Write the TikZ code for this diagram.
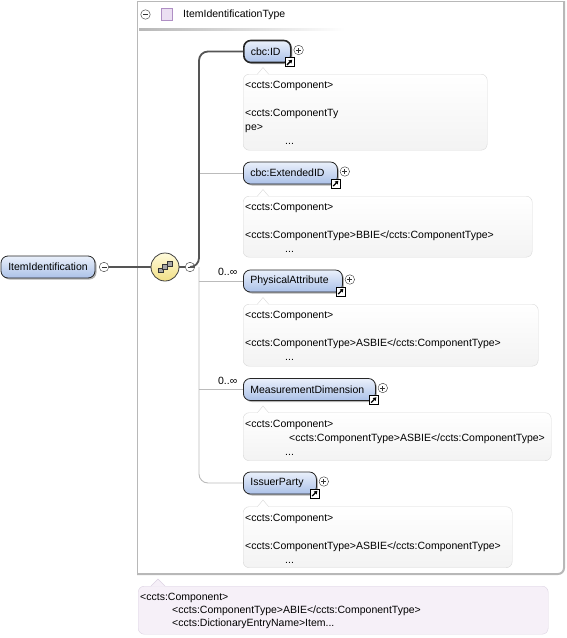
\documentclass[tikz,border=0pt]{standalone}
\usepackage{fontspec}
\setmainfont{Liberation Sans}
\usetikzlibrary{shadows,arrows.meta}
\definecolor{elemTop}{HTML}{EAF0FB}
\definecolor{elemBot}{HTML}{ABC1E8}
\definecolor{annLine}{HTML}{D8D8D8}
\definecolor{annBot}{HTML}{F3F3F3}
\definecolor{docFill}{HTML}{F6F0F8}
\definecolor{docLine}{HTML}{DCD2E2}
\definecolor{frameGray}{HTML}{B8B8B8}
\definecolor{lightLink}{HTML}{BBBBBB}
\definecolor{darkLink}{HTML}{555555}
\definecolor{seqTop}{HTML}{FFFBDC}
\definecolor{seqBot}{HTML}{F1DF85}
\definecolor{typeSq}{HTML}{EBDFF2}
\definecolor{typeSqLine}{HTML}{AF8FC4}
\tikzset{
  elembox/.style={draw=black!85, line width=0.8pt, rounded corners=7pt,
    top color=elemTop, bottom color=elemBot, minimum height=22pt,
    inner xsep=7pt, inner ysep=0pt, anchor=west, align=left,
    font=\fontsize{10.5}{12}\selectfont,
    drop shadow={shadow xshift=1.5pt, shadow yshift=-1.5pt, fill=black!50, opacity=0.6}},
  mandatory/.style={line width=1.6pt},
  annbox/.style={draw=annLine, rounded corners=6pt, top color=white, bottom color=annBot,
    anchor=north west, inner sep=0pt},
  docbox/.style={draw=docLine, rounded corners=6pt, fill=docFill, anchor=north west, inner sep=0pt},
  anntext/.style={anchor=north west, inner sep=0pt, align=left, font=\fontsize{10.5}{14}\selectfont},
  doctext/.style={anchor=north west, inner sep=0pt, align=left, font=\fontsize{10.5}{13}\selectfont},
  pmminus/.style={circle, draw=black!80, fill=white, minimum size=9.5pt, inner sep=0pt,
    path picture={\draw[line width=0.7pt] ([xshift=-2.5pt]path picture bounding box.center) -- ([xshift=2.5pt]path picture bounding box.center);}},
  pmplus/.style={circle, draw=black!80, fill=white, minimum size=9.5pt, inner sep=0pt,
    path picture={\draw[line width=0.7pt] ([xshift=-2.5pt]path picture bounding box.center) -- ([xshift=2.5pt]path picture bounding box.center)
      ([yshift=-2.5pt]path picture bounding box.center) -- ([yshift=2.5pt]path picture bounding box.center);}},
  refbox/.style={draw=black, line width=0.8pt, fill=white, minimum size=9pt, inner sep=0pt,
    path picture={\draw[-{Triangle[length=3.2pt,width=4pt]}, line width=1.3pt]
      ([shift={(-2.6pt,-2.6pt)}]path picture bounding box.center) -- ([shift={(2.6pt,2.6pt)}]path picture bounding box.center);}},
  lightlink/.style={draw=lightLink, line width=0.9pt, rounded corners=9pt},
  darklink/.style={draw=darkLink, line width=1.8pt, rounded corners=9pt},
  mult/.style={anchor=base east, inner sep=0pt, font=\fontsize{10.5}{12}\selectfont},
}
\begin{document}
\begin{tikzpicture}[x=1pt,y=-1pt]
\useasboundingbox (0,0) rectangle (567,638);
% type frame
\draw[frameGray, line width=1pt] (137,575) -- (137,1) -- (564,1);
\draw[frameGray, line width=2pt, rounded corners=6pt] (564,1) -- (564,574) -- (137,574);
% header
\node[pmminus] (hminus) at (145.5,14.5) {};
\node[draw=typeSqLine, fill=typeSq, minimum width=11pt, minimum height=12pt, inner sep=0pt] (hsq) at (167,14.5) {};
\node[anchor=west, inner sep=0pt, font=\fontsize{10.5}{12}\selectfont] (htitle) at (183,15) {ItemIdentificationType};
\shade[left color=black!28, right color=white] (139,28.5) rectangle (345,30);

% root element and sequence
\node[elembox, anchor=center, align=center, text width=80pt] (root) at (48,267) {ItemIdentification};
\node[pmminus] (rootm) at (104,267) {};
\node[circle, draw=black!75, line width=0.8pt, top color=seqTop, bottom color=seqBot, minimum size=28pt, inner sep=0pt] (seq) at (165,267) {};
\draw[black!70, line width=0.7pt] (158,270) -- (172,264);
\filldraw[fill=black!35, draw=black!80, line width=0.5pt] (158.2,267.8) rectangle (162.8,272.4);
\filldraw[fill=black!35, draw=black!80, line width=0.5pt] (162.7,264.7) rectangle (167.3,269.3);
\filldraw[fill=black!35, draw=black!80, line width=0.5pt] (167.2,261.6) rectangle (171.8,266.2);
\node[pmminus] (seqm) at (190,267) {};
\coordinate (trunk) at (199,267);

% child elements
\node[elembox, mandatory, text width=33pt] (id) at (243,51.5) {cbc:ID};
\node[elembox, text width=80pt] (ext) at (243,173) {cbc:ExtendedID};
\node[elembox, text width=85pt] (phys) at (243,281) {PhysicalAttribute};
\node[elembox, text width=118pt] (meas) at (243,389.5) {MeasurementDimension};
\node[elembox, text width=59pt] (issuer) at (243,483) {IssuerParty};

% connectors
\draw[darkLink, line width=1.4pt] (rootm.east) -- (seq.west);
\draw[darkLink, line width=1.4pt] (seq.east) -- (seqm.west);
\draw[lightlink] (trunk) |- (issuer.west);
\draw[lightlink] (trunk |- ext.west) -- (ext.west);
\draw[lightlink] (trunk |- phys.west) -- (phys.west);
\draw[lightlink] (trunk |- meas.west) -- (meas.west);
\draw[darklink] (seqm.east) -- (trunk) |- (id.west);

% multiplicities
\node[mult] (m1) at (237.5,275.5) {0..∞};
\node[mult] (m2) at (237.5,384) {0..∞};

% plus and reference icons
\foreach \e in {id,ext,phys,meas,issuer}{
  \node[pmplus] (\e plus) at ([xshift=7pt,yshift=1.5pt]\e.east) {};
  \node[refbox] (\e ref) at ([xshift=-2pt,yshift=1pt]\e.south east) {};
}

% annotations
\node[annbox, minimum width=244pt, minimum height=76pt] (a1) at (243,74) {};
\node[annbox, minimum width=289pt, minimum height=61pt] (a2) at (243,196) {};
\node[annbox, minimum width=295pt, minimum height=62pt] (a3) at (243,304) {};
\node[annbox, minimum width=308pt, minimum height=48pt] (a4) at (243,412.5) {};
\node[annbox, minimum width=269pt, minimum height=61pt] (a5) at (243,506.5) {};
\foreach \t in {74,196,304,412.5,506.5}{
  \fill[white] (257.5,\t+0.6) -- (263,\t-6.5) -- (268.5,\t+0.6) -- cycle;
  \draw[annLine] (257.5,\t) -- (263,\t-6.5) -- (268.5,\t);
}
\node[anntext] (t1) at (245,81) {<ccts:Component>\\\mbox{}\\<ccts:ComponentTy\\pe>\\\hspace*{40pt}...};
\node[anntext] (t2) at (245,202.5) {<ccts:Component>\\\mbox{}\\<ccts:ComponentType>BBIE</ccts:ComponentType>\\\hspace*{40pt}...};
\node[anntext] (t3) at (245,311) {<ccts:Component>\\\mbox{}\\<ccts:ComponentType>ASBIE</ccts:ComponentType>\\\hspace*{40pt}...};
\node[anntext] (t4) at (245,419.5) {<ccts:Component>\\\hspace*{44pt}<ccts:ComponentType>ASBIE</ccts:ComponentType>\\\hspace*{40pt}...};
\node[anntext] (t5) at (245,513.5) {<ccts:Component>\\\mbox{}\\<ccts:ComponentType>ASBIE</ccts:ComponentType>\\\hspace*{40pt}...};

% type documentation
\node[docbox, minimum width=410pt, minimum height=48pt] (doc) at (138,586) {};
\fill[docFill] (151,586.6) -- (158,579) -- (165,586.6) -- cycle;
\draw[docLine] (151,586) -- (158,579) -- (165,586);
\node[doctext] (tdoc) at (140,593) {<ccts:Component>\\\hspace*{32pt}<ccts:ComponentType>ABIE</ccts:ComponentType>\\\hspace*{32pt}<ccts:DictionaryEntryName>Item...};
\end{tikzpicture}
\end{document}
